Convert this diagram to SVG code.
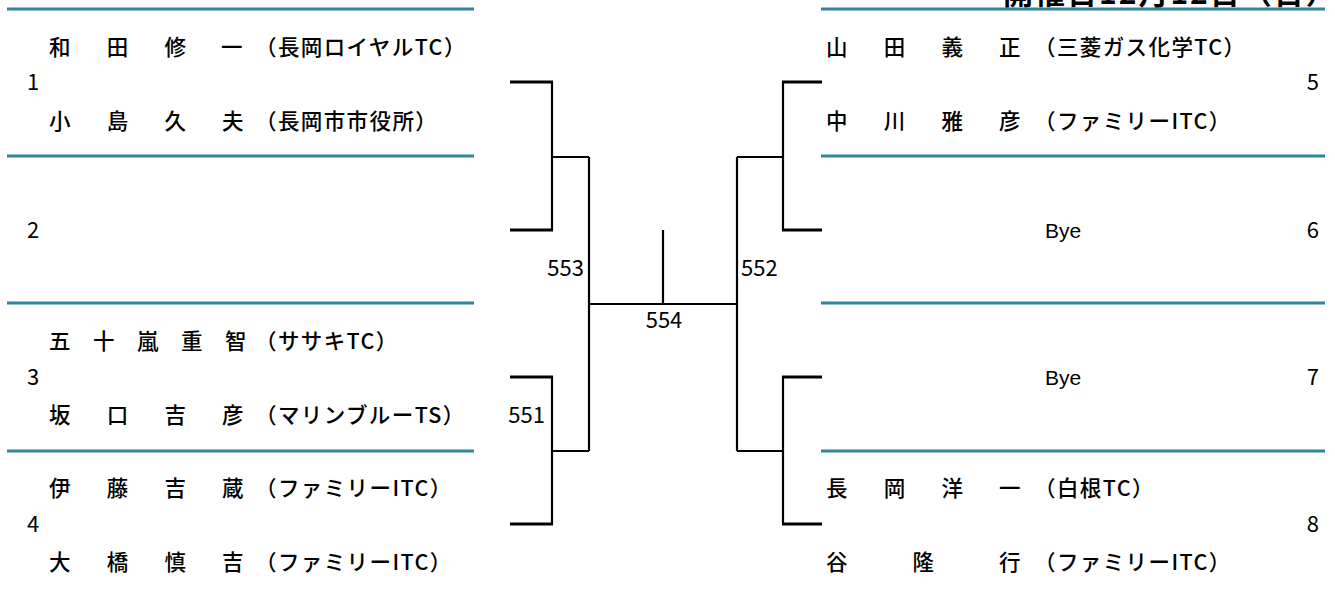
<svg xmlns="http://www.w3.org/2000/svg" width="1335" height="597" viewBox="0 0 1335 597">
<style>
.bg{fill:#ffffff}
.sep{stroke:#31869b;stroke-width:3;fill:none}
.nm{font-family:"Noto Sans CJK JP","Noto Sans",sans-serif;font-size:21.5px;font-weight:500;letter-spacing:1.4px;fill:#000}
.seed{font-family:"Noto Sans CJK JP","Noto Sans",sans-serif;font-size:22px;fill:#000}
.bye{font-family:"Liberation Sans",Arial,sans-serif;font-size:21px;fill:#000}
.lbl{font-family:"Noto Sans CJK JP","Noto Sans",sans-serif;font-size:22px;fill:#000}
.title{font-family:"Noto Sans CJK JP","Noto Sans",sans-serif;font-size:30px;font-weight:bold;letter-spacing:2px;fill:#000}
.thick{stroke:#000;stroke-width:3;fill:none}
.thin{stroke:#000;stroke-width:2.2;fill:none}
</style>
<rect class="bg" x="0" y="0" width="1335" height="597"/>
<text id="title" class="title" x="1003" y="4">開催日12月12日（日）</text>

<g id="separators">
<line class="sep" x1="7" y1="9" x2="474" y2="9"/>
<line class="sep" x1="7" y1="156" x2="474" y2="156"/>
<line class="sep" x1="7" y1="303" x2="474" y2="303"/>
<line class="sep" x1="7" y1="451" x2="474" y2="451"/>
<line class="sep" x1="821" y1="9" x2="1325" y2="9"/>
<line class="sep" x1="821" y1="156" x2="1325" y2="156"/>
<line class="sep" x1="821" y1="303" x2="1325" y2="303"/>
<line class="sep" x1="821" y1="451" x2="1325" y2="451"/>
</g>

<g id="entry1">
<text class="nm" x="49 106.7 164.4 221 255" y="55">和田修一（長岡ロイヤルTC）</text>
<text class="seed" x="27" y="90">1</text>
<text class="nm" x="49 106.7 164.4 222 255" y="129">小島久夫（長岡市市役所）</text>
</g>
<g id="entry2">
<text class="seed" x="27" y="238">2</text>
</g>
<g id="entry3">
<text class="nm" x="49 93 137 181 225 255" y="349">五十嵐重智（ササキTC）</text>
<text class="seed" x="27" y="385">3</text>
<text class="nm" x="49 106.7 164.4 222 255" y="423">坂口吉彦（マリンブルーTS）</text>
</g>
<g id="entry4">
<text class="nm" x="49 106.7 164.4 222 255" y="496">伊藤吉蔵（ファミリーITC）</text>
<text class="seed" x="27" y="532">4</text>
<text class="nm" x="49 106.7 164.4 222 255" y="570">大橋慎吉（ファミリーITC）</text>
</g>

<g id="entry5">
<text class="nm" x="826 883.7 941.4 999 1034" y="55">山田義正（三菱ガス化学TC）</text>
<text class="seed" x="1319" y="90" text-anchor="end">5</text>
<text class="nm" x="826 883.7 941.4 999 1034" y="129">中川雅彦（ファミリーITC）</text>
</g>
<g id="entry6">
<text class="bye" x="1045" y="238">Bye</text>
<text class="seed" x="1319" y="238" text-anchor="end">6</text>
</g>
<g id="entry7">
<text class="bye" x="1045" y="385">Bye</text>
<text class="seed" x="1319" y="385" text-anchor="end">7</text>
</g>
<g id="entry8">
<text class="nm" x="826 883.7 941.4 999 1034" y="496">長岡洋一（白根TC）</text>
<text class="seed" x="1319" y="532" text-anchor="end">8</text>
<text class="nm" x="826 912.5 999 1034" y="570">谷隆行（ファミリーITC）</text>
</g>

<g id="connectors">
<path class="thick" d="M510,82 H553 M510,230 H553 M510,377 H553 M510,524 H553"/>
<path class="thin" d="M552,82 V230 M552,157 H589 M589,157 V451 M552,377 V524 M552,451 H589"/>
<path class="thin" d="M589,304 H737 M663,230 V304"/>
<path class="thin" d="M737,157 V451 M737,157 H783 M783,82 V230 M737,451 H783 M783,377 V524"/>
<path class="thick" d="M782,82 H822 M782,230 H822 M782,377 H822 M782,524 H822"/>
</g>

<g id="match-labels">
<text class="lbl" x="584" y="276" text-anchor="end">553</text>
<text class="lbl" x="741" y="276">552</text>
<text class="lbl" x="664" y="328" text-anchor="middle">554</text>
<text class="lbl" x="545" y="423" text-anchor="end">551</text>
</g>
</svg>
